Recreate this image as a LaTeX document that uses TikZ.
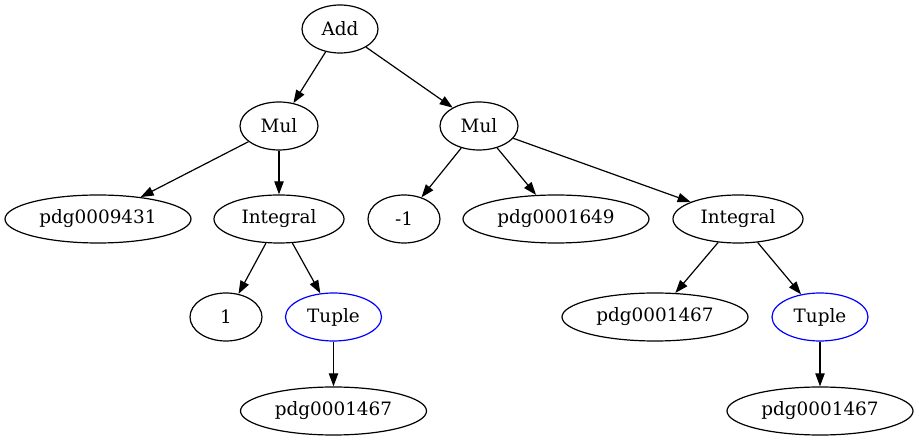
\documentclass[tikz,border=0pt]{standalone}
\usepackage{fontspec}
\setmainfont{DejaVu Serif}
\usetikzlibrary{shapes.geometric,arrows.meta}
\begin{document}
\begin{tikzpicture}[x=1pt,y=-1pt,
  nd/.style={draw,ellipse,line width=1.2pt,inner sep=0pt,minimum height=48pt,font=\fontsize{18.4}{22}\selectfont},
  tup/.style={nd,draw=blue},
  edge/.style={line width=1.2pt,-{Triangle[length=13pt,width=9.3pt]}}]
\useasboundingbox (0,0) rectangle (919,443);
\node[nd,minimum width=76pt] (add) at (340,29) {Add};
\node[nd,minimum width=78pt] (mul1) at (279,126) {Mul};
\node[nd,minimum width=78pt] (mul2) at (479,126) {Mul};
\node[nd,minimum width=186pt] (p9431) at (98,219) {pdg0009431};
\node[nd,minimum width=130pt] (int1) at (279,219) {Integral};
\node[nd,minimum width=72pt] (m1) at (404,219) {-1};
\node[nd,minimum width=186pt] (p1649) at (556,219) {pdg0001649};
\node[nd,minimum width=130pt] (int2) at (738,219) {Integral};
\node[nd,minimum width=72pt] (one) at (226,317) {1};
\node[tup,minimum width=96pt] (tup1) at (333.5,317) {Tuple};
\node[nd,minimum width=186pt] (p1467a) at (655,317) {pdg0001467};
\node[tup,minimum width=96pt] (tup2) at (820,317) {Tuple};
\node[nd,minimum width=186pt] (p1467b) at (333.5,411) {pdg0001467};
\node[nd,minimum width=186pt] (p1467c) at (820,411) {pdg0001467};
\draw[edge] (add) -- (mul1);
\draw[edge] (add) -- (mul2);
\draw[edge] (mul1) -- (p9431);
\draw[edge] (mul1) -- (int1);
\draw[edge] (mul2) -- (m1);
\draw[edge] (mul2) -- (p1649);
\draw[edge] (mul2) -- (int2);
\draw[edge] (int1) -- (one);
\draw[edge] (int1) -- (tup1);
\draw[edge] (tup1) -- (p1467b);
\draw[edge] (int2) -- (p1467a);
\draw[edge] (int2) -- (tup2);
\draw[edge] (tup2) -- (p1467c);
\end{tikzpicture}
\end{document}
